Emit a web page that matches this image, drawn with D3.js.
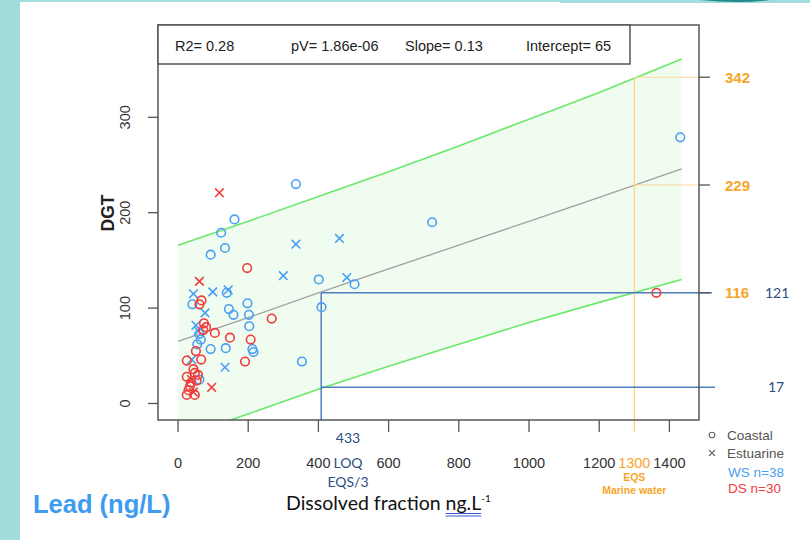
<!DOCTYPE html>
<html><head><meta charset="utf-8">
<script src="https://cdn.jsdelivr.net/npm/d3@7"></script>
<style>body{margin:0;background:#a2dcdc;} svg{display:block}</style>
</head><body>
<svg id="c" width="810" height="540"></svg>
<script>
// ---- data ----
const wsCoastal = [[1431,279],[336,230],[724,190],[161,193],[123,179],[134,163],[93,156],[401,130],[503,125],[139,116],[41,104],[198,105],[409,101],[145,99],[158,93],[202,93],[203,81],[65,67],[61,73],[93,57],[136,58],[212,57],[215,54],[353,44],[61,25],[55,62]];
const wsEstuarine = [[336,167],[460,173],[300,134],[481,132],[99,117],[143,119],[44,115],[77,95],[51,82],[134,38],[39,46],[58,76]];
const dsCoastal = [[197,142],[67,108],[61,104],[267,89],[74,84],[72,77],[105,74],[148,69],[207,67],[51,55],[191,44],[25,45],[66,46],[44,36],[48,32],[25,28],[34,18],[25,9],[48,9],[53,24],[1363,116],[30,14],[57,30],[37,22],[80,80]];
const dsEstuarine = [[118,221],[61,128],[39,25],[96,17],[44,12]];
const bandX = [0,200,400,600,800,1000,1200,1435];
const fitY = [65,90,116,141,166,191,216,246];
const upperY = [166,191,217,243,270,298,326,361];
const lowerY = [-36,-11,15,39,62,85,106,130];
const xTicks = [0,200,400,600,800,1000,1200,1400];
const yTicks = [0,100,200,300];
const stats = ["R2= 0.28","pV= 1.86e-06","Slope= 0.13","Intercept= 65"];
const eqsX = 1300, eqsLevels = [342,229,116];
const loqX = 408, loqLevels = [116,17], loqLabels = ["121","17"];
const legendLines = ["Coastal","Estuarine","WS n=38","DS n=30"];

const svg = d3.select("#c");
svg.append("rect").attr("x",20).attr("y",2).attr("width",790).attr("height",538).attr("fill","#fff");

const L=158,R=699,T=25,B=420;
const x = d3.scaleLinear().domain([0,1400]).range([178,669.4]);
const y = d3.scaleLinear().domain([0,300]).range([403.5,117.3]);
const blue="#4aa0f2", red="#f03c3c", orange="#f7a52a", dblue="#2c4f80", lblue="#4f7fbf";
const tf = "Liberation Sans, Arial", cf="Lato, Liberation Sans";

svg.append("clipPath").attr("id","pc").append("rect").attr("x",L).attr("y",T).attr("width",R-L).attr("height",B-T);
const g = svg.append("g").attr("clip-path","url(#pc)");
const band = bandX.map((v,i)=>({x:v,f:fitY[i],u:upperY[i],l:lowerY[i]}));
g.append("path").datum(band).attr("fill","#f0fcf0")
  .attr("d",d3.area().x(d=>x(d.x)).y0(d=>y(d.l)).y1(d=>y(d.u)));
const ln = k=>d3.line().x(d=>x(d.x)).y(d=>y(d[k]));
g.append("path").datum(band).attr("fill","none").attr("stroke","#6be86b").attr("stroke-width",1.6).attr("d",ln("u"));
g.append("path").datum(band).attr("fill","none").attr("stroke","#6be86b").attr("stroke-width",1.6).attr("d",ln("l"));
g.append("path").datum(band).attr("fill","none").attr("stroke","#a0a0a0").attr("stroke-width",1.3).attr("d",ln("f"));

// EQS orange lines
svg.append("line").attr("x1",x(eqsX)).attr("x2",x(eqsX)).attr("y1",y(eqsLevels[0])).attr("y2",B+12).attr("stroke","#ffcf80").attr("stroke-width",1.2);
eqsLevels.forEach(v=>svg.append("line").attr("x1",x(eqsX)).attr("x2",R).attr("y1",y(v)).attr("y2",y(v)).attr("stroke","#ffd89a").attr("stroke-width",1));

// LOQ blue lines
svg.append("line").attr("x1",x(loqX)).attr("x2",x(loqX)).attr("y1",y(loqLevels[0])).attr("y2",B).attr("stroke",lblue).attr("stroke-width",1.5);
loqLevels.forEach((v,i)=>svg.append("line").attr("x1",x(loqX)).attr("x2",i?715:712).attr("y1",y(v)).attr("y2",y(v)).attr("stroke",lblue).attr("stroke-width",1.5));

// points
const pts = svg.append("g").attr("fill","none").attr("stroke-width",1.6);
const circ = (data,col)=>pts.selectAll(null).data(data).enter().append("circle")
  .attr("cx",d=>x(d[0])).attr("cy",d=>y(d[1])).attr("r",4.3).attr("stroke",col);
const cross = (data,col)=>pts.selectAll(null).data(data).enter().append("path")
  .attr("d",d=>{const cx=x(d[0]),cy=y(d[1]),s=4.3;return `M${cx-s},${cy-s}L${cx+s},${cy+s}M${cx-s},${cy+s}L${cx+s},${cy-s}`;}).attr("stroke",col);
circ(wsCoastal,blue); cross(wsEstuarine,blue); circ(dsCoastal,red); cross(dsEstuarine,red);

// box
svg.append("rect").attr("x",L).attr("y",T).attr("width",R-L).attr("height",B-T).attr("fill","none").attr("stroke","#555").attr("stroke-width",1.5);
svg.append("rect").attr("x",L).attr("y",T).attr("width",630-L).attr("height",39).attr("fill","#fff").attr("stroke","#555").attr("stroke-width",1.5);
const sx=[175,291,405,526];
stats.forEach((s,i)=>svg.append("text").attr("x",sx[i]).attr("y",50.5).attr("font-family",tf).attr("font-size",14.5).attr("fill","#222").text(s));

// axes
const ya = svg.append("g");
yTicks.forEach(v=>{
  ya.append("line").attr("x1",148).attr("x2",L).attr("y1",y(v)).attr("y2",y(v)).attr("stroke","#555").attr("stroke-width",1.3);
  ya.append("text").attr("transform",`translate(130,${y(v)}) rotate(-90)`).attr("text-anchor","middle").attr("font-family",tf).attr("font-size",14.5).attr("fill","#333").text(v);
});
const xa = svg.append("g");
xTicks.forEach(v=>{
  xa.append("line").attr("x1",x(v)).attr("x2",x(v)).attr("y1",B).attr("y2",B+12).attr("stroke","#555").attr("stroke-width",1.3);
  xa.append("text").attr("x",x(v)).attr("y",468).attr("text-anchor","middle").attr("font-family",tf).attr("font-size",14.5).attr("fill","#333").text(v);
});
// right ticks
eqsLevels.forEach(v=>{
  svg.append("line").attr("x1",R).attr("x2",710).attr("y1",y(v)).attr("y2",y(v)).attr("stroke","#555").attr("stroke-width",1.3);
  svg.append("text").attr("x",725).attr("y",y(v)+5.5).attr("font-family",tf).attr("font-weight","bold").attr("font-size",15).attr("fill",orange).text(v);
});
loqLevels.forEach((v,i)=>svg.append("text").attr("x",i?768:765).attr("y",y(v)+5).attr("font-family",cf).attr("font-size",14).attr("fill",dblue).text(loqLabels[i]));

// LOQ labels
[["433",443],["LOQ",468],["EQS/3",487]].forEach(([t,yy])=>svg.append("text").attr("x",348).attr("y",yy).attr("text-anchor","middle").attr("font-family",cf).attr("font-size",14).attr("fill",dblue).text(t));
// EQS labels
svg.append("text").attr("x",x(eqsX)).attr("y",468).attr("text-anchor","middle").attr("font-family",tf).attr("font-size",14.5).attr("fill",orange).text("1300");
svg.append("text").attr("x",x(eqsX)).attr("y",481).attr("text-anchor","middle").attr("font-family",tf).attr("font-weight","bold").attr("font-size",10.5).attr("fill",orange).text("EQS");
svg.append("text").attr("x",x(eqsX)).attr("y",494).attr("text-anchor","middle").attr("font-family",tf).attr("font-weight","bold").attr("font-size",10.5).attr("fill",orange).text("Marine water");

// axis titles
svg.append("text").attr("transform","translate(114,213) rotate(-90)").attr("text-anchor","middle").attr("font-family",tf).attr("font-weight","bold").attr("font-size",17.5).attr("fill","#222").text("DGT");
const t = svg.append("text").attr("x",286).attr("y",510).attr("font-family",cf).attr("font-size",19.5).attr("fill","#111");
const t1 = t.append("tspan").text("Dissolved fraction ");
const ng = t.append("tspan").text("ng.L");
t.append("tspan").attr("dy",-8).attr("font-size",10).text("-1");
const ux0 = 286 + t1.node().getComputedTextLength(), ux1 = ux0 + ng.node().getComputedTextLength();
[513.5,516].forEach(yy=>svg.append("line").attr("x1",ux0).attr("x2",ux1).attr("y1",yy).attr("y2",yy).attr("stroke","#3b5bd6").attr("stroke-width",1));
svg.append("text").attr("x",33).attr("y",513).attr("font-family",tf).attr("font-weight","bold").attr("font-size",25.5).attr("fill","#3d9cf0").text("Lead (ng/L)");

// legend
const lg = svg.append("g").attr("font-family",tf).attr("font-size",13.5);
lg.append("circle").attr("cx",712).attr("cy",435).attr("r",2.8).attr("fill","none").attr("stroke","#666").attr("stroke-width",1.1);
lg.append("path").attr("d","M709,450L715,456M709,456L715,450").attr("stroke","#666").attr("stroke-width",1.1);
lg.append("text").attr("x",727).attr("y",440).attr("fill","#555").text(legendLines[0]);
lg.append("text").attr("x",727).attr("y",458).attr("fill","#555").text(legendLines[1]);
lg.append("text").attr("x",728).attr("y",477).attr("fill","#4aa0f2").text(legendLines[2]);
lg.append("text").attr("x",728).attr("y",493).attr("fill","#f03c3c").text(legendLines[3]);
// decorative top-right slide shapes
svg.append("path").attr("d","M560,0 L810,0 L810,3 L560,3Z").attr("fill","#a2dcdc");
svg.append("path").attr("d","M700,0 Q740,4 770,0Z").attr("fill","#1f8a8a");
</script>
</body></html>
